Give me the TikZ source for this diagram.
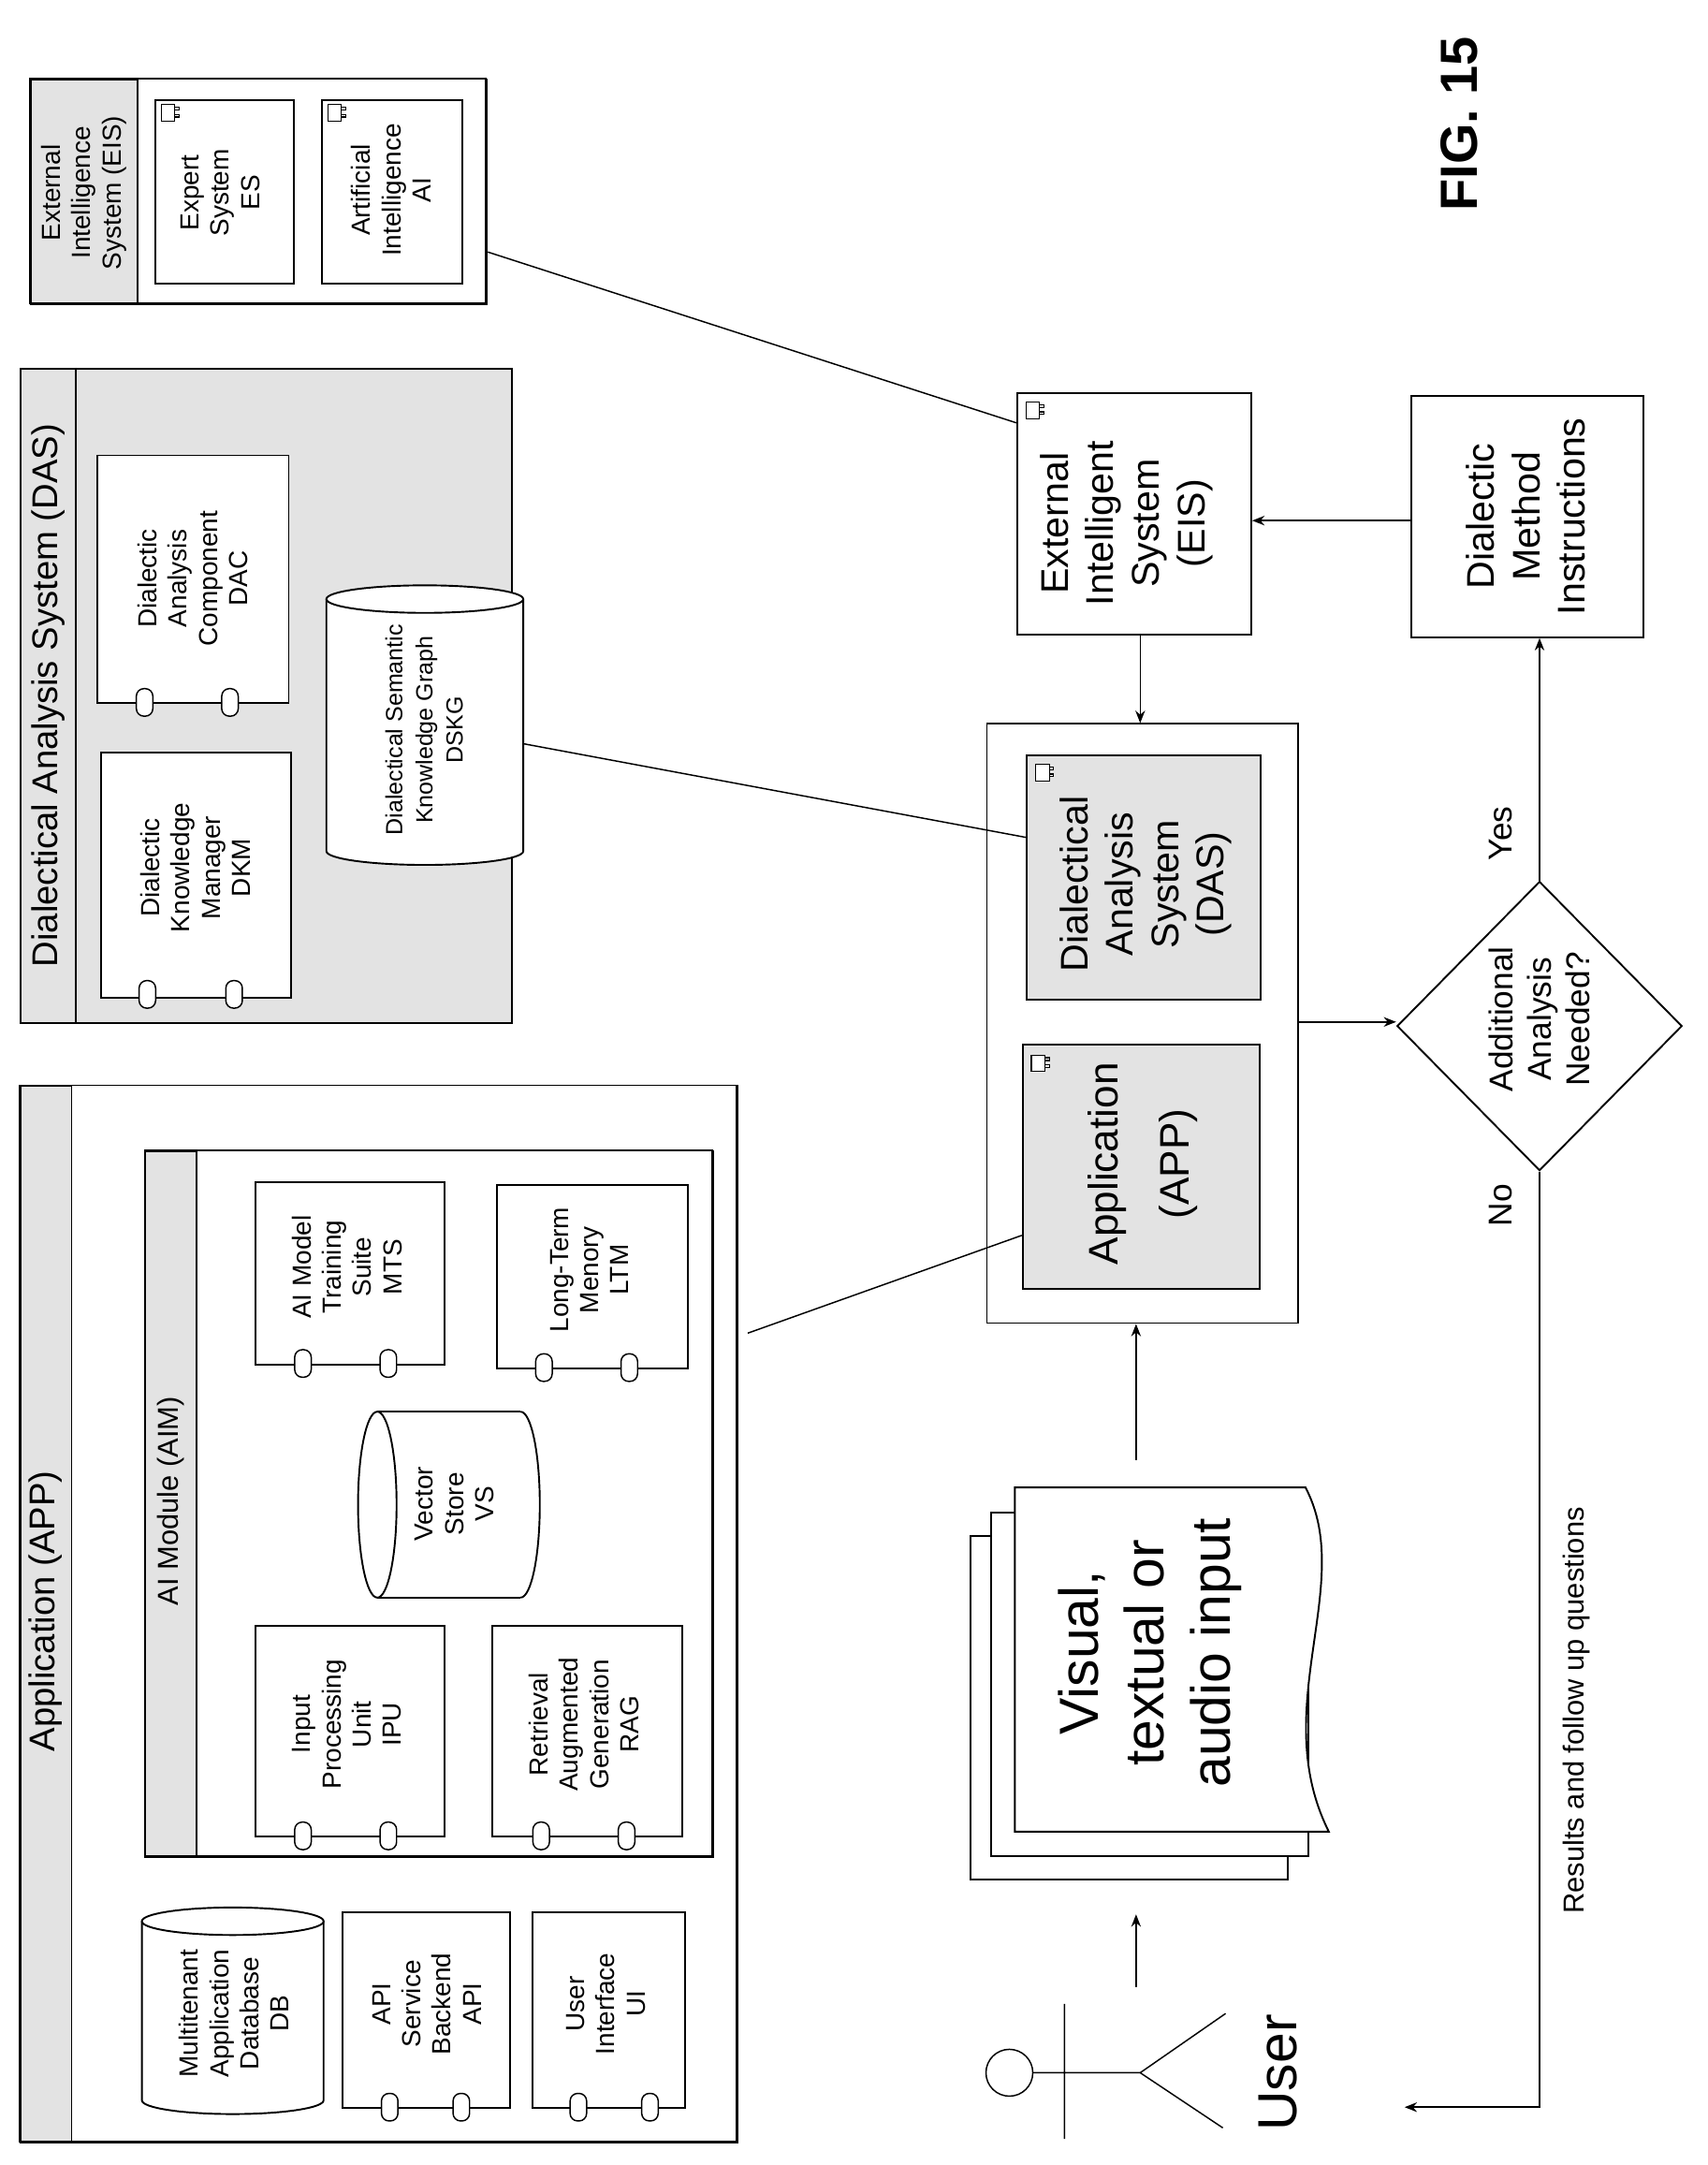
\documentclass[tikz,border=0pt]{standalone}
\usepackage{fontspec}
\setmainfont{Liberation Sans}
\usetikzlibrary{shapes.geometric,patterns,arrows.meta}
\begin{document}
\begin{tikzpicture}[x=1pt,y=-1pt,line width=1.3pt,
 gr/.style={fill=gray!22},
 tx/.style={rotate=90,align=center,font=\fontsize{19}{22}\selectfont},
 ttl/.style={rotate=90,align=center,font=\fontsize{26}{30}\selectfont},
 big/.style={rotate=90,align=center,font=\fontsize{28}{33}\selectfont},
 arr/.style={-{Stealth[length=9pt,width=7pt]},line width=1pt},
 ln/.style={line width=1pt}]
\useasboundingbox (0,0) rectangle (1240,1572);
\newcommand{\ovalA}[2]{\draw[fill=white,line width=1pt,rounded corners=5.5pt] ({#1-6},{#2-10}) rectangle ({#1+6},{#2+10});}
\newcommand{\ovals}[3]{\ovalA{#1}{#3}\ovalA{#2}{#3}}
\newcommand{\icon}[2]{\draw[line width=0.8pt,fill=white] (#1,#2) rectangle ({#1+10},{#2+12});
 \draw[line width=0.8pt,fill=white] ({#1+10},{#2+2}) rectangle ({#1+13},{#2+4});\draw[line width=0.8pt,fill=white] ({#1+10},{#2+7}) rectangle ({#1+13},{#2+9});}
% vertical cylinder: x1 x2 ytop ybot rx cx
\newcommand{\cylv}[6]{\fill[white] (#1,#3) rectangle (#2,#4); \fill[white] (#6,#4) ellipse[x radius=#5,y radius=10];
 \draw (#1,#3) -- (#1,#4) arc[start angle=180,end angle=0,x radius=#5,y radius=10] -- (#2,#3);
 \draw[fill=white] (#6,#3) ellipse[x radius=#5,y radius=10];}

% ===== EIS external
\node[draw,gr,minimum width=331,minimum height=163,anchor=north west,inner sep=0] (eisx) at (22,57) {};
\fill[white] (100,57) rectangle (353,220);
\draw (22,57) rectangle (353,220); \draw (100,57) -- (100,220);
\node[tx] at (61,140) {External\\Intelligence\\System (EIS)};
\node[draw,minimum width=101,minimum height=133,anchor=north west] (es) at (112,72) {};
\node[tx] at (160,140) {Expert\\System\\ES};
\node[draw,minimum width=102,minimum height=133,anchor=north west] (ai) at (233,72) {};
\node[tx] at (284,138) {Artificial\\Intelligence\\AI};
\icon{117}{76}\icon{238}{76}

% ===== DAS external
\node[draw,gr,minimum width=357,minimum height=475,anchor=north west,inner sep=0] (dasx) at (14,267) {};
\draw (55,267) -- (55,742);
\node[ttl] at (35,505) {Dialectical Analysis System (DAS)};
\node[draw,fill=white,minimum width=139,minimum height=180,anchor=north west] (dac) at (70,330) {};
\node[tx] at (140,420) {Dialectic\\Analysis\\Component\\DAC};
\ovals{105}{167}{510}
\node[draw,fill=white,minimum width=138,minimum height=178,anchor=north west] (dkm) at (73,546) {};
\node[tx] at (142,630) {Dialectic\\Knowledge\\Manager\\DKM};
\ovals{107}{170}{722}
\cylv{237}{380}{435}{618}{71.5}{308.5}
\coordinate (dskg) at (380,540);
\node[tx,font=\fontsize{17}{22}\selectfont] at (308,530) {Dialectical Semantic\\Knowledge Graph\\DSKG};

% ===== APP external
\node[draw,gr,minimum width=521,minimum height=767,anchor=north west,inner sep=0] (appx) at (14,788) {};
\fill[white] (52,788) rectangle (535,1555); \draw (14,788) rectangle (535,1555);
\draw (52,788) -- (52,1555);
\node[ttl] at (33,1170) {Application (APP)};
\node[draw,gr,minimum width=412,minimum height=513,anchor=north west,inner sep=0] (aim) at (105,835) {};
\fill[white] (143,835) rectangle (517,1348); \draw (105,835) rectangle (517,1348);
\draw (143,835) -- (143,1348);
\node[tx,font=\fontsize{21}{25}\selectfont] at (124,1090) {AI Module (AIM)};
\node[draw,minimum width=137,minimum height=132,anchor=north west] (mts) at (185,858) {};
\node[tx] at (252,920) {AI Model\\Training\\Suite\\MTS};
\ovals{220}{282}{990}
\node[draw,minimum width=139,minimum height=133,anchor=north west] (ltm) at (360,860) {};
\node[tx] at (428,922) {Long-Term\\Menory\\LTM};
\ovals{395}{457}{993}
% vector store (caps left/right)
\fill[white] (274,1025) rectangle (378,1160);
\fill[white] (378,1092.5) ellipse[x radius=14,y radius=67.5];
\draw (274,1025) -- (378,1025) (274,1160) -- (378,1160);
\draw (378,1160) arc[start angle=90,end angle=-90,x radius=14,y radius=67.5];
\draw[fill=white] (274,1092.5) ellipse[x radius=14,y radius=67.5];
\node[tx] at (330,1092) {Vector\\Store\\VS};
\node[draw,minimum width=137,minimum height=153,anchor=north west] (ipu) at (185,1180) {};
\node[tx] at (252,1252) {Input\\Processing\\Unit\\IPU};
\ovals{220}{282}{1333}
\node[draw,minimum width=138,minimum height=153,anchor=north west] (rag) at (357,1180) {};
\node[tx] at (424,1252) {Retrieval\\Augmented\\Generation\\RAG};
\ovals{393}{455}{1333}
\cylv{103}{235}{1395}{1525}{66}{169}
\node[tx] at (170,1462) {Multitenant\\Application\\Database\\DB};
\node[draw,minimum width=122,minimum height=142,anchor=north west] (api) at (248,1388) {};
\node[tx] at (310,1455) {API\\Service\\Backend\\API};
\ovals{283}{335}{1530}
\node[draw,minimum width=111,minimum height=142,anchor=north west] (ui) at (386,1388) {};
\node[tx] at (440,1455) {User\\Interface\\UI};
\ovals{420}{472}{1530}

% ===== right side
\node[draw,minimum width=226,minimum height=435,anchor=north west,inner sep=0] (cont) at (716,525) {};
\node[draw,gr,minimum width=170,minimum height=177,anchor=north west,inner sep=0] (dasi) at (745,548) {};
\node[big] at (832,642) {Dialectical\\Analysis\\System\\(DAS)};
\icon{752}{555}
\node[draw,gr,minimum width=172,minimum height=177,anchor=north west,inner sep=0] (appi) at (742,758) {};
\node[big,font=\fontsize{30}{52}\selectfont] at (830,845) {Application\\(APP)};
\icon{749}{766}
\node[draw,minimum width=170,minimum height=175,anchor=north west,inner sep=0] (eisi) at (738,285) {};
\node[big] at (818,380) {External\\Intelligent\\System\\(EIS)};
\icon{745}{292}
\node[draw,minimum width=169,minimum height=175,anchor=north west,inner sep=0] (dmi) at (1024,287) {};
\node[big] at (1108,375) {Dialectic\\Method\\Instructions};
\node[draw,diamond,minimum width=207,minimum height=210,inner sep=0] (dia) at (1118,745) {};
\node[tx,font=\fontsize{24}{28}\selectfont] at (1118,740) {Additional\\Analysis\\Needed?};

% document stack
\draw[fill=white] (705,1115) rectangle (935,1365);
\draw[fill=white] (720,1098) rectangle (950,1348);
\draw[fill=white] (948,1080) .. controls (985,1150) and (920,1240) .. (965,1330) -- (737,1330) -- (737,1080) -- cycle;
\node[rotate=90,align=center,font=\fontsize{40}{48}\selectfont] at (835,1200) {Visual,\\textual or\\audio input};

% user
\draw[line width=1pt] (733,1505) circle (17);
\draw[line width=1pt] (750,1505) -- (828,1505) -- (890,1462) (828,1505) -- (888,1545) (773,1455) -- (773,1553);
\node[rotate=90,font=\fontsize{40}{48}\selectfont] (user) at (928,1505) {User};

% connectors
\draw[arr] (825,1443) -- (825,1390);
\draw[arr] (825,1060) -- (cont.south -| 825,0);
\draw[arr] (eisi.south -| 828,0) -- (cont.north -| 828,0);
\draw[arr] (dmi.west |- 0,378) -- (eisi.east |- 0,378);
\draw[arr] (cont.east |- 0,742) -- (dia.west |- 0,742);
\draw[arr] (dia.north) -- (dmi.south -| dia.north);
\node[rotate=90,font=\fontsize{24}{28}\selectfont] at (1090,605) {Yes};
\draw[arr] (dia.south) -- (1118,1530) -- (1020,1530);
\node[rotate=90,font=\fontsize{24}{28}\selectfont] at (1090,875) {No};
\node[rotate=90,font=\fontsize{21}{25}\selectfont] at (1145,1242) {Results and follow up questions};
\draw[ln] (eisx.east |- 0,183) -- (eisi.west |- 0,307);
\draw[ln] (dskg) -- (dasi.west |- 0,608);
\draw[ln] (543,968) -- (appi.west |- 0,897);
\node[rotate=90,font=\bfseries\fontsize{38}{44}\selectfont] at (1060,90) {FIG. 15};
\end{tikzpicture}
\end{document}
